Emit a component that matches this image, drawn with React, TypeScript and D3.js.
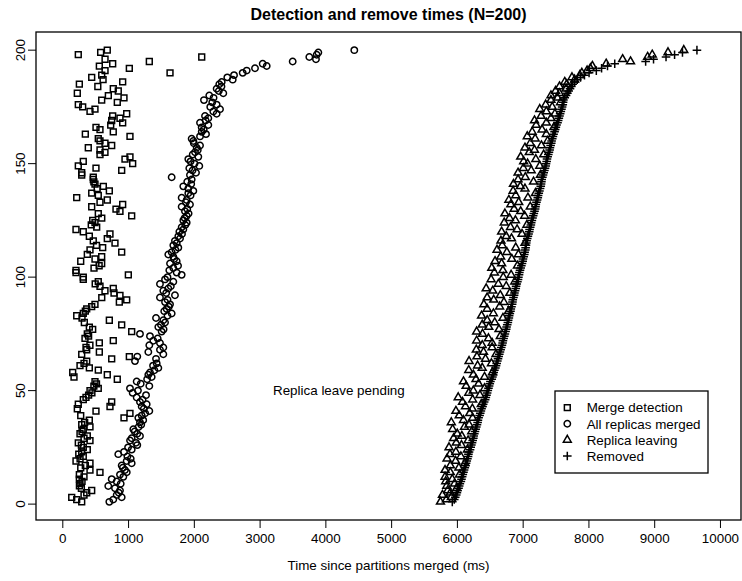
import React from "react";
import { useRef, useEffect } from "react";
import * as d3 from "d3";

// times in ms, one value per merge (N=200); the y position is the merge's rank 1..200
const mergeDetection = [
  295, 219, 143, 330, 371, 447, 290, 260, 269, 300,
  259, 330, 259, 573, 421, 280, 350, 421, 208, 270,
  319, 250, 295, 380, 319, 290, 243, 421, 330, 380,
  269, 300, 319, 421, 295, 340, 411, 938, 280, 1029,
  512, 228, 725, 243, 751, 319, 360, 400, 450, 421,
  547, 480, 520, 497, 836, 178, 684, 158, 547, 411,
  269, 330, 371, 751, 1019, 295, 563, 371, 360, 420,
  563, 775, 345, 400, 380, 1055, 462, 411, 903, 335,
  715, 300, 219, 319, 350, 371, 447, 497, 867, 979,
  600, 877, 786, 649, 775, 573, 500, 547, 319, 319,
  1004, 208, 208, 482, 560, 599, 280, 497, 599, 380,
  903, 421, 614, 520, 801, 471, 684, 411, 725, 319,
  208, 523, 440, 497, 462, 600, 1055, 547, 877, 816,
  447, 918, 573, 684, 219, 547, 447, 715, 530, 624,
  497, 480, 471, 471, 295, 295, 903, 512, 243, 1070,
  319, 953, 1029, 573, 649, 573, 395, 751, 649, 573,
  547, 1029, 350, 775, 573, 512, 736, 918, 751, 877,
  766, 979, 421, 497, 310, 243, 836, 599, 938, 700,
  228, 851, 775, 540, 259, 918, 620, 447, 599, 1638,
  650, 1019, 563, 766, 1323, 650, 2120, 243, 583, 684,
];

const allReplicasMerged = [
  715, 775, 903, 827, 860, 877, 801, 699, 888, 827,
  751, 928, 877, 980, 953, 920, 903, 1055, 979, 1040,
  990, 851, 938, 1055, 1000, 1140, 1121, 1030, 1055, 1181,
  1140, 1100, 1080, 1160, 1200, 1181, 1230, 1156, 1207, 1260,
  1323, 1240, 1207, 1283, 1181, 1220, 1131, 1273, 1070, 1150,
  1029, 1323, 1192, 1131, 1290, 1359, 1308, 1333, 1400, 1460,
  1380, 1435, 1105, 1425, 1140, 1536, 1308, 1485, 1536, 1323,
  1485, 1384, 1450, 1333, 1181, 1511, 1540, 1460, 1500, 1562,
  1536, 1425, 1600, 1663, 1550, 1587, 1620, 1638, 1562, 1600,
  1485, 1713, 1580, 1536, 1612, 1650, 1485, 1688, 1562, 1600,
  1815, 1739, 1627, 1688, 1760, 1638, 1739, 1700, 1688, 1612,
  1663, 1720, 1764, 1688, 1740, 1713, 1790, 1764, 1820, 1780,
  1840, 1815, 1870, 1891, 1840, 1860, 1891, 1920, 1865, 1900,
  1815, 1941, 1880, 1891, 1815, 1950, 1916, 1992, 1916, 1840,
  1960, 1900, 1967, 1663, 1941, 2033, 1980, 1931, 2083, 2010,
  1950, 1916, 2068, 1983, 2018, 2060, 2043, 2094, 2000, 1992,
  1967, 2094, 2185, 2120, 2150, 2119, 2220, 2094, 2180, 2220,
  2170, 2347, 2296, 2398, 2250, 2347, 2280, 2154, 2300, 2235,
  2448, 2380, 2347, 2420, 2387, 2424, 2591, 2509, 2611, 2743,
  2804, 2930, 3108, 3047, 3503, 3857, 3756, 3868, 3893, 4440,
];

const replicaLeaving = [
  5750, 5840, 5915, 5780, 5900, 5860, 5995, 5845, 5965, 5830,
  5930, 5820, 6040, 5900, 5820, 6030, 5900, 6120, 5980, 5850,
  6060, 5895, 5985, 6160, 5880, 6070, 5990, 6170, 5950, 6075,
  6005, 6225, 5935, 6115, 6185, 5915, 6100, 6240, 6035, 6195,
  5985, 6235, 6130, 6370, 6085, 6240, 6020, 6350, 6180, 6250,
  6420, 6140, 6330, 6100, 6290, 6420, 6250, 6540, 6180, 6385,
  6315, 6525, 6185, 6435, 6305, 6595, 6405, 6295, 6535, 6385,
  6535, 6300, 6480, 6660, 6390, 6300, 6640, 6485, 6385, 6575,
  6460, 6700, 6375, 6555, 6785, 6460, 6650, 6410, 6715, 6560,
  6460, 6660, 6805, 6545, 6445, 6750, 6630, 6880, 6520, 6705,
  6825, 6570, 6700, 6530, 6920, 6680, 6580, 6835, 6665, 6935,
  6760, 6610, 6895, 6690, 7035, 6670, 6830, 6750, 6990, 6680,
  6915, 6815, 7065, 6720, 6890, 6800, 7030, 6730, 6970, 6870,
  7115, 6820, 6940, 6790, 7080, 6895, 7195, 6855, 7035, 6965,
  6860, 7165, 6930, 7040, 7270, 6930, 7130, 7010, 7260, 7075,
  7015, 7200, 6970, 7320, 7100, 7180, 7035, 7285, 7115, 7380,
  7190, 7070, 7360, 7145, 7295, 7475, 7205, 7360, 7180, 7430,
  7280, 7490, 7360, 7260, 7450, 7350, 7575, 7430, 7530, 7430,
  7560, 7500, 7660, 7560, 7670, 7640, 7790, 7750, 7870, 7900,
  7980, 8030, 8060, 8270, 8640, 8520, 8900, 8970, 9210, 9450,
];

const removed = [
  5930, 5960, 5975, 5990, 6000, 6010, 6025, 6035, 6045, 6060,
  6070, 6080, 6090, 6100, 6110, 6120, 6130, 6140, 6150, 6160,
  6170, 6175, 6185, 6200, 6210, 6220, 6230, 6240, 6250, 6255,
  6265, 6275, 6285, 6295, 6305, 6315, 6320, 6330, 6345, 6355,
  6365, 6375, 6390, 6400, 6415, 6430, 6440, 6450, 6460, 6470,
  6480, 6490, 6500, 6510, 6530, 6540, 6550, 6560, 6570, 6585,
  6595, 6605, 6615, 6625, 6635, 6645, 6655, 6665, 6675, 6685,
  6695, 6700, 6710, 6720, 6730, 6740, 6750, 6755, 6765, 6775,
  6780, 6790, 6795, 6805, 6815, 6820, 6830, 6840, 6845, 6850,
  6860, 6870, 6875, 6885, 6895, 6900, 6910, 6920, 6930, 6935,
  6945, 6950, 6960, 6970, 6980, 6990, 7000, 7005, 7015, 7025,
  7030, 7040, 7045, 7050, 7055, 7060, 7070, 7080, 7090, 7100,
  7105, 7115, 7125, 7130, 7140, 7150, 7160, 7170, 7180, 7190,
  7195, 7200, 7210, 7220, 7230, 7235, 7245, 7255, 7265, 7275,
  7280, 7285, 7290, 7300, 7310, 7320, 7330, 7340, 7350, 7355,
  7365, 7370, 7380, 7390, 7400, 7410, 7415, 7425, 7435, 7440,
  7450, 7460, 7470, 7485, 7495, 7505, 7515, 7530, 7540, 7550,
  7560, 7570, 7580, 7590, 7600, 7610, 7615, 7620, 7640, 7660,
  7680, 7700, 7720, 7740, 7760, 7790, 7830, 7880, 7940, 8010,
  8120, 8200, 8290, 8400, 8870, 8990, 9180, 9310, 9430, 9650,
];

const seriesNames = ["Merge detection", "All replicas merged", "Replica leaving", "Removed"];
const seriesShapes = ["square", "circle", "triangle", "plus"];
const xTicks = [0, 1000, 2000, 3000, 4000, 5000, 6000, 7000, 8000, 9000, 10000];
const yTicks = [0, 50, 100, 150, 200];

const FONT = "'Liberation Sans', Arial, Helvetica, sans-serif";

function markerPath(shape: string) {
  if (shape === "square") return d3.symbol(d3.symbolSquare, 34)();
  if (shape === "circle") return d3.symbol(d3.symbolCircle, 32)();
  if (shape === "triangle") return d3.symbol(d3.symbolTriangle, 27)();
  const p = d3.path(); // plus sign, drawn with strokes
  p.moveTo(-4.3, 0); p.lineTo(4.3, 0);
  p.moveTo(0, -4.3); p.lineTo(0, 4.3);
  return p.toString();
}

export default function App() {
  const svgRef = useRef<SVGSVGElement>(null);

  useEffect(() => {
    document.body.style.margin = "0";
    const w = 742;
    const h = 581;
    const plot = { left: 36, right: 741, top: 32, bottom: 520 };

    const svg = d3.select(svgRef.current);
    svg.selectAll("*").remove();
    svg.attr("width", w).attr("height", h).style("display", "block").style("font-family", FONT);
    svg.append("rect").attr("width", w).attr("height", h).attr("fill", "white");

    const x = d3.scaleLinear().domain([-400, 10320]).range([plot.left, plot.right]);
    const y = d3.scaleLinear().domain([-7, 208]).range([plot.bottom, plot.top]);

    //points
    const allSeries = [mergeDetection, allReplicasMerged, replicaLeaving, removed];
    allSeries.forEach((values, si) => {
      svg.append("g")
        .selectAll("path")
        .data(values)
        .enter()
        .append("path")
        .attr("d", markerPath(seriesShapes[si]))
        .attr("transform", (d, i) => `translate(${x(d)},${y(i + 1)})`)
        .attr("fill", "none")
        .attr("stroke", "black")
        .attr("stroke-width", 1.5);
    });

    //box
    svg.append("rect")
      .attr("x", plot.left).attr("y", plot.top)
      .attr("width", plot.right - plot.left).attr("height", plot.bottom - plot.top)
      .attr("fill", "none").attr("stroke", "black").attr("stroke-width", 1.3);

    //x axis
    const xAxis = d3.axisBottom(x).tickValues(xTicks).tickSize(8).tickPadding(5).tickFormat(d3.format("d"));
    const gx = svg.append("g").attr("transform", `translate(0,${plot.bottom})`).call(xAxis);
    gx.select(".domain").remove();
    gx.selectAll("line").attr("stroke", "black").attr("stroke-width", 1);
    gx.selectAll("text").attr("font-size", 13.4).attr("font-family", FONT).attr("fill", "black");

    //y axis (labels rotated, as in R)
    const gy = svg.append("g");
    gy.selectAll("line")
      .data(yTicks)
      .enter()
      .append("line")
      .attr("x1", plot.left - 8).attr("x2", plot.left)
      .attr("y1", d => y(d)).attr("y2", d => y(d))
      .attr("stroke", "black");
    gy.selectAll("text")
      .data(yTicks)
      .enter()
      .append("text")
      .attr("transform", d => `translate(24.5,${y(d)}) rotate(-90)`)
      .attr("text-anchor", "middle")
      .attr("font-size", 13.4)
      .text(d => d);

    //labels
    svg.append("text").attr("x", (plot.left + plot.right) / 2).attr("y", 20)
      .attr("text-anchor", "middle").attr("font-size", 16).attr("font-weight", "bold")
      .text("Detection and remove times (N=200)");
    svg.append("text").attr("x", (plot.left + plot.right) / 2).attr("y", 570)
      .attr("text-anchor", "middle").attr("font-size", 13.4)
      .text("Time since partitions merged (ms)");
    svg.append("text").attr("x", 273).attr("y", 395)
      .attr("font-size", 13.4)
      .text("Replica leave pending");

    //legend
    const lg = svg.append("g").attr("transform", "translate(555,391)");
    lg.append("rect").attr("width", 153).attr("height", 82)
      .attr("fill", "white").attr("stroke", "black").attr("stroke-width", 1.3);
    seriesNames.forEach((name, i) => {
      const ry = 16.7 + i * 16.1;
      lg.append("path").attr("d", markerPath(seriesShapes[i]))
        .attr("transform", `translate(12.3,${ry})`)
        .attr("fill", "none").attr("stroke", "black").attr("stroke-width", 1.5);
      lg.append("text").attr("x", 31.7).attr("y", ry + 4.7)
        .attr("font-size", 13.4).text(name);
    });
  }, []);

  return (
    <div>
      <svg ref={svgRef}></svg>
    </div>
  );
}
